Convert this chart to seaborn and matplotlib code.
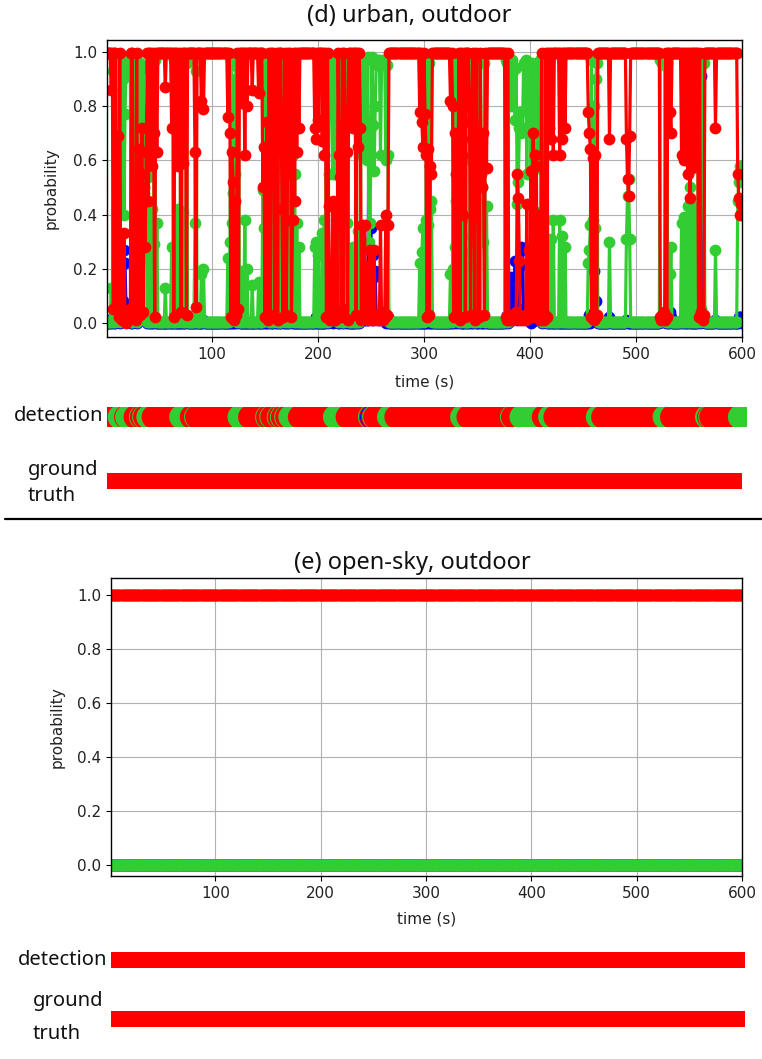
import numpy as np
import matplotlib
matplotlib.use("Agg")
import matplotlib.pyplot as plt
from matplotlib.lines import Line2D
import seaborn as sns

# ---------------- data ----------------
time_s = np.arange(1, 601)          # one sample per second
class_names = ["indoor", "semi-outdoor", "outdoor"]
class_colors = ["#0000ff", "#32cd32", "#ff0000"]

# (d) urban, outdoor: steady readings
urban_red_level = 0.995
urban_green_level = 0.005
urban_blue_level = 0.0

# (d) urban, outdoor: samples that deviate from the steady readings
ev_time = [5, 7, 10, 11, 12, 14, 15, 16, 17, 18,
           19, 20, 21, 22, 23, 26, 27, 28, 30, 31,
           32, 33, 34, 35, 36, 37, 38, 40, 43, 45,
           46, 48, 56, 62, 64, 67, 68, 70, 71, 73,
           76, 84, 85, 90, 92, 115, 117, 118, 119, 120,
           121, 122, 123, 125, 128, 131, 133, 138, 144, 148,
           149, 150, 151, 152, 153, 155, 157, 159, 160, 162,
           166, 167, 168, 170, 171, 173, 175, 176, 178, 180,
           182, 197, 198, 200, 204, 206, 208, 210, 211, 212,
           213, 214, 215, 216, 217, 218, 220, 221, 222, 224,
           226, 227, 228, 231, 233, 236, 238, 240, 241, 242,
           243, 244, 245, 246, 247, 248, 249, 250, 251, 252,
           253, 254, 255, 256, 257, 258, 259, 260, 261, 262,
           263, 264, 265, 266, 296, 298, 299, 301, 302, 303,
           304, 305, 306, 307, 325, 327, 328, 329, 330, 331,
           332, 334, 336, 337, 339, 343, 344, 345, 347, 348,
           350, 351, 352, 354, 355, 356, 357, 359, 377, 378,
           380, 381, 382, 383, 384, 385, 386, 387, 388, 389,
           390, 391, 392, 393, 394, 395, 396, 397, 398, 399,
           400, 401, 402, 403, 404, 405, 406, 407, 408, 409,
           410, 412, 413, 414, 416, 418, 420, 422, 428, 430,
           433, 455, 456, 457, 458, 459, 460, 461, 462, 463,
           475, 491, 492, 493, 494, 523, 524, 525, 526, 527,
           529, 532, 533, 543, 545, 547, 549, 551, 553, 556,
           559, 561, 562, 563, 564, 575, 596, 597, 598, 599,
           600]
ev_red = [.86, .05, .07, .69, .02, .04, .01, .02, .33, .01,
          .00, .03, .01, .02, .05, .02, .04, .01, .03, .64,
          .03, .55, .72, .04, .50, .28, .63, .45, .58, .70,
          .02, .63, .87, .72, .02, .70, .58, .65, .04, .59,
          .03, .63, .06, .82, .79, .76, .70, .02, .63, .52,
          .01, .45, .03, .05, .81, .62, .80, .86, .85, .50,
          .65, .02, .50, .74, .01, .03, .72, .02, .64, .01,
          .42, .02, .70, .03, .38, .55, .02, .38, .45, .63,
          .72, .72, .68, .75, .67, .62, .02, .43, .01, .03,
          .02, .45, .05, .01, .43, .04, .62, .54, .02, .05,
          .74, .63, .01, .76, .72, .03, .65, .72, .01, .36,
          .02, .36, .02, .21, .01, .02, .27, .03, .01, .02,
          .27, .01, .02, .03, .01, .02, .36, .02, .01, .04,
          .02, .40, .03, .36, .78, .74, .65, .77, .62, .02,
          .64, .03, .58, .55, .82, .80, .02, .70, .55, .03,
          .42, .01, .62, .40, .02, .74, .03, .68, .63, .01,
          .58, .66, .02, .55, .50, .70, .03, .57, .02, .01,
          .02, .01, .03, .02, .01, .03, .02, .04, .55, .46,
          .23, .01, .02, .01, .02, .03, .01, .44, .02, .27,
          .03, .56, .02, .70, .04, .62, .58, .02, .40, .01,
          .03, .02, .01, .03, .02, .72, .68, .62, .62, .68,
          .72, .78, .70, .64, .02, .61, .01, .62, .02, .03,
          .68, .68, .53, .47, .69, .02, .01, .03, .04, .01,
          .02, .78, .70, .62, .60, .66, .55, .46, .57, .60,
          .02, .04, .02, .01, .03, .72, .55, .46, .40, .44,
          .45]
ev_green = [.13, .93, .90, .30, .97, .95, .95, .90, .40, .77,
            .96, .94, .97, .92, .93, .95, .95, .98, .96, .35,
            .96, .44, .27, .94, .48, .71, .36, .54, .42, .29,
            .97, .37, .13, .28, .97, .30, .42, .35, .95, .41,
            .96, .37, .93, .18, .20, .24, .30, .97, .37, .48,
            .90, .55, .96, .94, .19, .38, .20, .14, .15, .49,
            .35, .97, .50, .26, .98, .96, .28, .97, .36, .98,
            .57, .97, .30, .95, .62, .44, .97, .62, .55, .37,
            .28, .28, .30, .25, .33, .38, .97, .55, .98, .95,
            .96, .55, .94, .97, .55, .95, .38, .45, .97, .94,
            .25, .37, .98, .24, .28, .96, .34, .26, .97, .62,
            .97, .62, .97, .60, .98, .30, .37, .62, .98, .73,
            .56, .80, .96, .95, .97, .97, .62, .96, .97, .95,
            .96, .60, .95, .62, .22, .26, .35, .23, .38, .97,
            .36, .96, .42, .45, .18, .20, .97, .28, .45, .96,
            .57, .98, .38, .60, .97, .26, .96, .32, .35, .98,
            .42, .34, .97, .43, .50, .30, .96, .43, .97, .96,
            .95, .97, .80, .97, .93, .94, .75, .94, .44, .52,
            .72, .78, .70, .72, .96, .95, .97, .55, .94, .72,
            .95, .44, .96, .29, .95, .37, .41, .95, .57, .97,
            .96, .96, .97, .94, .97, .28, .31, .38, .38, .32,
            .28, .22, .27, .36, .97, .38, .80, .35, .90, .96,
            .30, .31, .47, .53, .31, .97, .98, .96, .95, .97,
            .96, .18, .28, .37, .39, .34, .43, .50, .43, .40,
            .97, .05, .97, .98, .96, .27, .45, .52, .58, .54,
            .55]
ev_blue = [.01, .02, .03, .01, .01, .01, .04, .08, .27, .22,
           .04, .03, .02, .06, .02, .03, .01, .01, .01, .01,
           .01, .01, .01, .02, .02, .01, .01, .01, .00, .01,
           .01, .00, .00, .00, .01, .00, .00, .00, .01, .00,
           .01, .00, .01, .00, .01, .00, .00, .01, .00, .00,
           .09, .00, .01, .01, .00, .00, .00, .00, .00, .01,
           .00, .01, .00, .00, .01, .01, .00, .01, .00, .01,
           .01, .01, .00, .02, .00, .01, .01, .00, .00, .00,
           .00, .00, .02, .00, .00, .00, .01, .02, .01, .02,
           .02, .00, .01, .02, .02, .01, .00, .01, .01, .01,
           .01, .00, .01, .00, .00, .01, .01, .02, .02, .02,
           .01, .02, .01, .19, .01, .68, .36, .35, .01, .25,
           .17, .19, .02, .02, .02, .01, .02, .02, .02, .01,
           .02, .00, .02, .02, .00, .00, .00, .00, .00, .01,
           .00, .01, .00, .00, .00, .00, .01, .02, .00, .01,
           .01, .01, .00, .00, .01, .00, .01, .00, .02, .01,
           .00, .00, .01, .02, .00, .00, .01, .00, .01, .03,
           .03, .02, .17, .01, .06, .03, .23, .02, .01, .02,
           .05, .21, .28, .27, .02, .02, .02, .01, .04, .01,
           .02, .00, .02, .01, .01, .01, .01, .03, .03, .02,
           .01, .02, .02, .03, .01, .00, .01, .00, .00, .00,
           .00, .00, .03, .00, .01, .01, .19, .03, .08, .01,
           .02, .01, .00, .00, .00, .01, .01, .01, .01, .02,
           .02, .04, .02, .01, .01, .00, .02, .04, .00, .00,
           .01, .91, .01, .01, .01, .01, .00, .02, .02, .02,
           .00]

# (d) urban: detection strip (default class: outdoor)
det_semi_start = [13, 20, 33, 36, 40, 71, 85, 126, 152, 156, 163, 166, 170, 174,
                  216, 227, 249, 253, 267, 336, 383, 392, 419, 464, 527, 567, 570, 598]
det_semi_end = [18, 27, 33, 36, 44, 80, 85, 135, 152, 156, 163, 166, 170, 182,
                226, 227, 249, 253, 273, 341, 383, 412, 423, 468, 533, 568, 570, 600]
det_indoor_times = [251]

# (e) open-sky, outdoor: constant readings
open_red_level = 1.0
open_green_level = 0.0
open_blue_level = 0.0

# ground truth class for both recordings
urban_truth = "outdoor"
open_truth = "outdoor"

assert len(ev_time) == len(ev_red) == len(ev_green) == len(ev_blue)
assert len(det_semi_start) == len(det_semi_end)

n = len(time_s)
urban_red = np.full(n, urban_red_level)
urban_green = np.full(n, urban_green_level)
urban_blue = np.full(n, urban_blue_level)
idx = np.array(ev_time) - 1
urban_red[idx] = ev_red
urban_green[idx] = ev_green
urban_blue[idx] = ev_blue

urban_detect = np.array(["outdoor"] * n, dtype=object)
for a, b in zip(det_semi_start, det_semi_end):
    urban_detect[a - 1:b] = "semi-outdoor"
for t in det_indoor_times:
    urban_detect[t - 1] = "indoor"

open_red = np.full(n, open_red_level)
open_green = np.full(n, open_green_level)
open_blue = np.full(n, open_blue_level)
open_k = np.argmax(np.vstack([open_blue, open_green, open_red]), axis=0)
open_detect = [class_names[i] for i in open_k]

# ---------------- figure ----------------
sns.set_theme(style="ticks")
plt.rcParams["font.family"] = ["DejaVu Sans"]
W, H = 762, 1059
fig = plt.figure(figsize=(W / 100, H / 100), dpi=100)
fig.patch.set_facecolor("white")


def px_axes(x0, y0, x1, y1):
    return fig.add_axes([x0 / W, 1 - y1 / H, (x1 - x0) / W, (y1 - y0) / H])


label_font = ["Noto Sans", "DejaVu Sans"]


def prob_panel(box, ylim, blue, green, red, title, title_x, title_y, xlab_y, ylab_x):
    ax = px_axes(*box)
    for y, c in [(blue, class_colors[0]), (green, class_colors[1]), (red, class_colors[2])]:
        sns.lineplot(x=time_s, y=y, color=c, marker="o", markersize=8.5,
                     markeredgewidth=0, linewidth=2.3, estimator=None, sort=False,
                     ax=ax)
    ax.set_xlim(1, 600)
    ax.set_ylim(*ylim)
    ax.set_xticks([100, 200, 300, 400, 500, 600])
    ax.set_yticks([0.0, 0.2, 0.4, 0.6, 0.8, 1.0])
    ax.set_yticklabels(["0.0", "0.2", "0.4", "0.6", "0.8", "1.0"])
    ax.grid(True, color="#b0b0b0", linewidth=0.8)
    ax.set_axisbelow(True)
    ax.tick_params(labelsize=11, length=3.5, width=0.8, color="black",
                   labelcolor="#222222", direction="out")
    for s in ax.spines.values():
        s.set_color("black")
        s.set_linewidth(1.0)
    ax.set_xlabel("time (s)", fontsize=11, color="#222222")
    ax.set_ylabel("probability", fontsize=11, color="#222222")
    ax.xaxis.set_label_coords(0.5, xlab_y)
    ax.yaxis.set_label_coords(ylab_x, 0.5)
    fig.text(title_x / W, 1 - title_y / H, title, ha="center", va="center",
             fontsize=17, family=label_font, color="#111111")
    return ax


def strip(box, xmax, labels, marker, size):
    ax = px_axes(*box)
    sns.scatterplot(x=time_s, y=np.zeros(n), hue=list(labels), hue_order=class_names,
                    palette=class_colors, marker=marker, s=size, linewidth=0,
                    legend=False, ax=ax)
    ax.set_xlim(1, xmax)
    ax.set_ylim(-1, 1)
    ax.set_axis_off()
    return ax


def side_labels(x_det, y_det, x_gt, y_g, y_t):
    kw = dict(fontsize=14.5, family=label_font, color="#111111", va="center")
    fig.text(x_det / W, 1 - y_det / H, "detection", ha="right", **kw)
    fig.text(x_gt / W, 1 - y_g / H, "ground", ha="left", **kw)
    fig.text(x_gt / W, 1 - y_t / H, "truth", ha="left", **kw)


# (d) urban
prob_panel((107, 40, 742, 337), (-0.052, 1.044), urban_blue, urban_green, urban_red,
           "(d) urban, outdoor", 409, 16, -0.125, -0.076)
strip((107, 407, 747, 427), 604.7, urban_detect, "o", 300)
strip((107, 473, 742, 489), 600, [urban_truth] * n, "s", 320)
side_labels(103, 416, 28, 470, 496)

fig.add_artist(Line2D([5 / W, 1.0], [1 - 519 / H, 1 - 519 / H], color="black",
                      linewidth=1.6, transform=fig.transFigure))

# (e) open-sky
prob_panel((111, 578, 742, 876), (-0.041, 1.063), open_blue, open_green, open_red,
           "(e) open-sky, outdoor", 412, 563, -0.118, -0.074)
strip((111, 952, 745, 968), 603, open_detect, "o", 300)
strip((111, 1011, 745, 1027), 603, [open_truth] * n, "s", 320)
side_labels(107, 960, 33, 1001, 1034)

fig.savefig("out.png", dpi=100, facecolor="white")
